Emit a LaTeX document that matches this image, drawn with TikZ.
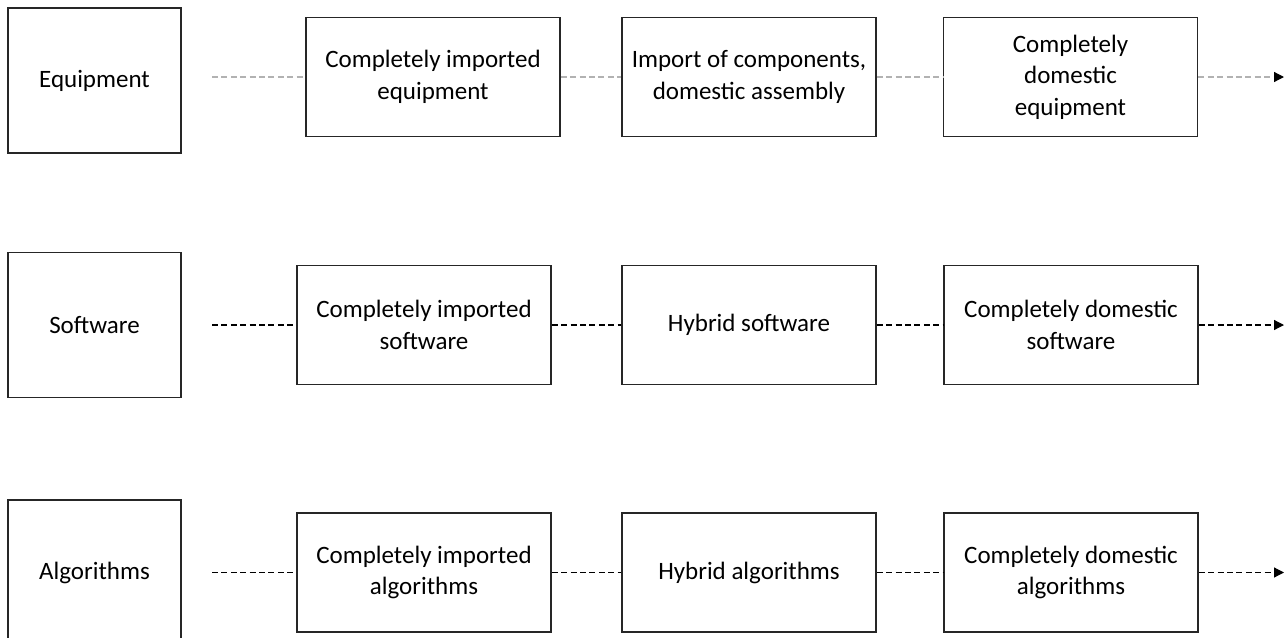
\documentclass[tikz,border=0pt]{standalone}
\usepackage{fontspec}
\setmainfont{Carlito}
\usetikzlibrary{arrows.meta}

\begin{document}
\begin{tikzpicture}[font=\fontsize{12.5}{15.8}\selectfont,
  head/.style={draw=black!85, line width=0.8pt, minimum width=86.5pt, minimum height=72.5pt, inner sep=0pt},
  block/.style={draw=black!85, line width=0.8pt, minimum width=127pt, minimum height=59.5pt, align=center, inner sep=0pt},
  link/.style={line width=0.6pt, dash pattern=on 3pt off 1.7pt},
  pale/.style={link, color=black!30}]

  \useasboundingbox (0,0) rectangle (643.5pt,-319pt);
  \clip (0,0) rectangle (643.5pt,-319pt);

  % First row
  \node[head] (E0) at (47.25pt,-40.25pt) {Equipment};
  \node[block] (E1) at (216.5pt,-38.5pt) {Completely imported\\equipment};
  \node[block, right of=E1, node distance=158pt] (E2) {Import of components,\\domestic assembly};
  \node[block, right of=E2, node distance=160.75pt] (E3) {Completely\\domestic\\equipment};

  % Second row
  \node[head] (S0) at (47.25pt,-162.5pt) {Software};
  \node[block] (S1) at (212pt,-162.5pt) {Completely imported\\software};
  \node[block, right of=S1, node distance=162.5pt] (S2) {Hybrid software};
  \node[block, right of=S2, node distance=161pt] (S3) {Completely domestic\\software};

  % Third row
  \node[head] (A0) at (47.25pt,-286.25pt) {Algorithms};
  \node[block] (A1) at (212pt,-286.25pt) {Completely imported\\algorithms};
  \node[block, right of=A1, node distance=162.5pt] (A2) {Hybrid algorithms};
  \node[block, right of=A2, node distance=161pt] (A3) {Completely domestic\\algorithms};

  % Loose ends
  \coordinate (ES) at (106pt,-38.5pt);
  \coordinate (EE) at (642pt,-38.5pt);
  \coordinate (SS) at (106pt,-162.5pt);
  \coordinate (SE) at (642pt,-162.5pt);
  \coordinate (AS) at (106pt,-286.25pt);
  \coordinate (AE) at (642pt,-286.25pt);

  % Dashed links
  \draw[pale] (ES) -- (E1.west);
  \draw[pale] (E1.east) -- (E2.west);
  \draw[pale] (E2.east) -- (E3.west);
  \draw[pale, -{Triangle[length=5pt, width=5pt, color=black]}] (E3.east) -- (EE);

  \draw[link] (SS) -- (S1.west);
  \draw[link] (S1.east) -- (S2.west);
  \draw[link] (S2.east) -- (S3.west);
  \draw[link, -{Triangle[length=5pt, width=5pt]}] (S3.east) -- (SE);

  \draw[link] (AS) -- (A1.west);
  \draw[link] (A1.east) -- (A2.west);
  \draw[link] (A2.east) -- (A3.west);
  \draw[link, -{Triangle[length=5pt, width=5pt]}] (A3.east) -- (AE);

\end{tikzpicture}
\end{document}
